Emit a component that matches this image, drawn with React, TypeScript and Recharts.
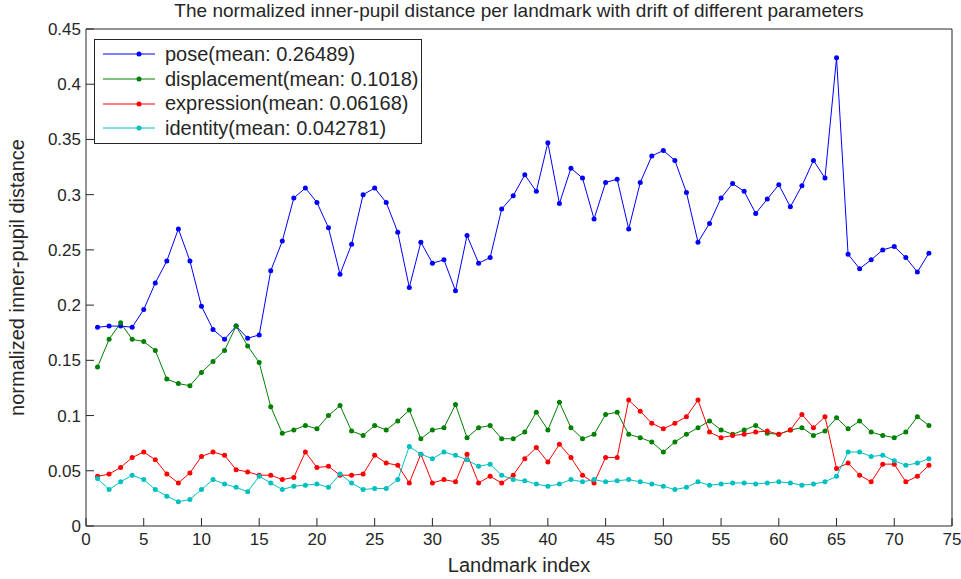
import { LineChart, Line, XAxis, YAxis, Legend } from 'recharts'

const landmarks = [
  1, 2, 3, 4, 5, 6, 7, 8, 9, 10, 11, 12, 13, 14, 15, 16, 17, 18, 19, 20,
  21, 22, 23, 24, 25, 26, 27, 28, 29, 30, 31, 32, 33, 34, 35, 36, 37, 38, 39, 40,
  41, 42, 43, 44, 45, 46, 47, 48, 49, 50, 51, 52, 53, 54, 55, 56, 57, 58, 59, 60,
  61, 62, 63, 64, 65, 66, 67, 68, 69, 70, 71, 72, 73,
]

const pose = [
  0.180, 0.181, 0.181, 0.180, 0.196, 0.220, 0.240, 0.269, 0.240, 0.199,
  0.178, 0.169, 0.181, 0.170, 0.173, 0.231, 0.258, 0.297, 0.306, 0.293,
  0.270, 0.228, 0.255, 0.300, 0.306, 0.293, 0.266, 0.216, 0.257, 0.238,
  0.241, 0.213, 0.263, 0.238, 0.243, 0.287, 0.299, 0.318, 0.303, 0.347,
  0.292, 0.324, 0.315, 0.278, 0.311, 0.314, 0.269, 0.311, 0.335, 0.340,
  0.331, 0.302, 0.257, 0.274, 0.297, 0.310, 0.303, 0.283, 0.296, 0.309,
  0.289, 0.308, 0.331, 0.315, 0.424, 0.246, 0.233, 0.241, 0.250, 0.253,
  0.243, 0.230, 0.247,
]

const displacement = [
  0.144, 0.169, 0.184, 0.169, 0.167, 0.159, 0.133, 0.129, 0.127, 0.139,
  0.149, 0.159, 0.181, 0.163, 0.148, 0.108, 0.084, 0.087, 0.091, 0.088,
  0.100, 0.109, 0.086, 0.082, 0.091, 0.087, 0.095, 0.105, 0.079, 0.087,
  0.089, 0.110, 0.080, 0.089, 0.091, 0.079, 0.079, 0.085, 0.103, 0.087,
  0.112, 0.089, 0.079, 0.083, 0.101, 0.103, 0.083, 0.080, 0.076, 0.067,
  0.076, 0.083, 0.089, 0.095, 0.087, 0.083, 0.087, 0.091, 0.084, 0.083,
  0.087, 0.089, 0.082, 0.086, 0.098, 0.088, 0.095, 0.085, 0.082, 0.080,
  0.085, 0.099, 0.091,
]

const expression = [
  0.045, 0.047, 0.053, 0.062, 0.067, 0.060, 0.047, 0.039, 0.048, 0.063,
  0.067, 0.064, 0.051, 0.049, 0.046, 0.046, 0.042, 0.044, 0.067, 0.053,
  0.054, 0.046, 0.046, 0.047, 0.064, 0.057, 0.055, 0.039, 0.065, 0.039,
  0.042, 0.040, 0.065, 0.039, 0.045, 0.039, 0.046, 0.061, 0.071, 0.058,
  0.074, 0.062, 0.046, 0.039, 0.062, 0.062, 0.114, 0.104, 0.093, 0.088,
  0.093, 0.099, 0.114, 0.085, 0.080, 0.082, 0.083, 0.085, 0.086, 0.083,
  0.087, 0.101, 0.089, 0.099, 0.052, 0.057, 0.046, 0.040, 0.056, 0.056,
  0.040, 0.045, 0.055,
]

const identity = [
  0.043, 0.033, 0.040, 0.046, 0.042, 0.033, 0.027, 0.022, 0.024, 0.033,
  0.042, 0.038, 0.035, 0.031, 0.045, 0.039, 0.033, 0.036, 0.037, 0.038,
  0.035, 0.047, 0.039, 0.033, 0.034, 0.034, 0.042, 0.072, 0.065, 0.061,
  0.067, 0.064, 0.060, 0.054, 0.056, 0.046, 0.042, 0.041, 0.038, 0.036,
  0.038, 0.042, 0.040, 0.042, 0.040, 0.041, 0.042, 0.040, 0.038, 0.036,
  0.033, 0.035, 0.040, 0.037, 0.038, 0.039, 0.039, 0.038, 0.039, 0.040,
  0.039, 0.037, 0.038, 0.040, 0.045, 0.067, 0.067, 0.063, 0.064, 0.059,
  0.055, 0.057, 0.061,
]

const xTicks = [0, 5, 10, 15, 20, 25, 30, 35, 40, 45, 50, 55, 60, 65, 70, 75]
const yTicks = [0, 0.05, 0.1, 0.15, 0.2, 0.25, 0.3, 0.35, 0.4, 0.45]

const series = [
  { key: 'pose', name: 'pose(mean: 0.26489)', color: '#0000ff' },
  { key: 'displacement', name: 'displacement(mean: 0.1018)', color: '#008000' },
  { key: 'expression', name: 'expression(mean: 0.06168)', color: '#ff0000' },
  { key: 'identity', name: 'identity(mean: 0.042781)', color: '#00bfbf' },
]

const data = landmarks.map((x, i) => ({
  x,
  pose: pose[i],
  displacement: displacement[i],
  expression: expression[i],
  identity: identity[i],
}))

const FONT = "'Liberation Sans', Arial, sans-serif"
const INK = '#262626'

function LegendBox() {
  return (
    <div
      style={{
        width: 328,
        height: 105,
        boxSizing: 'border-box',
        border: `1px solid ${INK}`,
        background: '#fff',
        paddingTop: 2,
        fontFamily: FONT,
        fontSize: 20,
        color: INK,
      }}
    >
      {series.map((s) => (
        <div key={s.key} style={{ height: 24.7, display: 'flex', alignItems: 'center' }}>
          <svg width={62} height={10} style={{ marginLeft: 8, flex: 'none' }}>
            <line x1={0} y1={5} x2={52} y2={5} stroke={s.color} strokeWidth={1} />
            <circle cx={36} cy={5} r={2.5} fill={s.color} />
          </svg>
          <span style={{ whiteSpace: 'nowrap' }}>{s.name}</span>
        </div>
      ))}
    </div>
  )
}

export default function App() {
  return (
    <div style={{ position: 'absolute', left: 0, top: 0, width: 961, height: 579, background: '#fff' }}>
      <div
        style={{
          position: 'absolute',
          left: 86,
          width: 866,
          top: 0,
          textAlign: 'center',
          fontFamily: FONT,
          fontSize: 19,
          lineHeight: '22px',
          color: INK,
        }}
      >
        The normalized inner-pupil distance per landmark with drift of different parameters
      </div>
      <LineChart width={961} height={579} data={data} margin={{ top: 28, right: 8, bottom: 23, left: 0 }}>
        <XAxis
          xAxisId="b"
          dataKey="x"
          type="number"
          domain={[0, 75]}
          ticks={xTicks}
          interval={0}
          height={30}
          tickSize={-8}
          tickMargin={15}
          stroke={INK}
          tick={{ fill: INK, fontSize: 17, fontFamily: FONT }}
          label={{ value: 'Landmark index', position: 'bottom', offset: 2, fill: INK, fontSize: 20, fontFamily: FONT }}
        />
        <XAxis
          xAxisId="t"
          orientation="top"
          dataKey="x"
          type="number"
          domain={[0, 75]}
          ticks={xTicks}
          interval={0}
          height={1}
          tickSize={-8}
          stroke={INK}
          tick={false}
        />
        <YAxis
          yAxisId="l"
          type="number"
          domain={[0, 0.45]}
          ticks={yTicks}
          interval={0}
          width={86}
          tickSize={-8}
          tickMargin={13}
          stroke={INK}
          tick={{ fill: INK, fontSize: 17, fontFamily: FONT }}
          label={{
            value: 'normalized inner-pupil distance',
            angle: -90,
            position: 'insideLeft',
            offset: 17,
            fill: INK,
            fontSize: 20,
            fontFamily: FONT,
            style: { textAnchor: 'middle' },
          }}
        />
        <YAxis
          yAxisId="r"
          orientation="right"
          type="number"
          domain={[0, 0.45]}
          ticks={yTicks}
          interval={0}
          width={1}
          tickSize={-8}
          stroke={INK}
          tick={false}
        />
        <Legend
          layout="horizontal"
          verticalAlign="middle"
          align="center"
          content={() => <LegendBox />}
          wrapperStyle={{ position: 'absolute', left: 94, top: 39, width: 328, height: 105 }}
        />
        {series.map((s) => (
          <Line
            key={s.key}
            xAxisId="b"
            yAxisId="l"
            type="linear"
            dataKey={s.key}
            name={s.name}
            stroke={s.color}
            strokeWidth={1}
            dot={{ r: 2.5, fill: s.color, stroke: s.color, strokeWidth: 0 }}
            activeDot={false}
            isAnimationActive={false}
          />
        ))}
      </LineChart>
    </div>
  )
}
